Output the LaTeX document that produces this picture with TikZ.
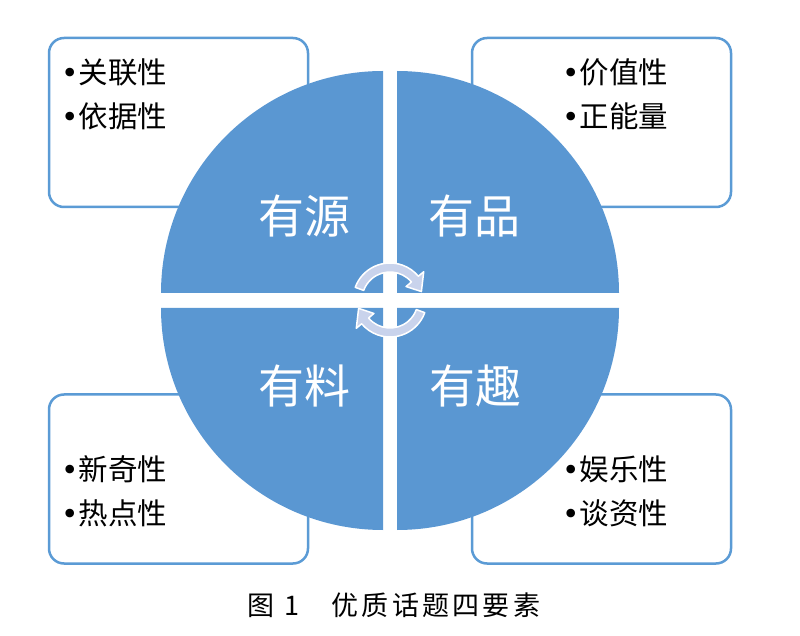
\documentclass[tikz,border=0pt]{standalone}
\usepackage{fontspec}
\setmainfont{Noto Sans CJK SC}
\newfontfamily\dotfont{DejaVu Sans}
\usepackage{tikz}
\usetikzlibrary{positioning, calc}
\definecolor{quadblue}{HTML}{5A97D2}
\definecolor{boxblue}{HTML}{5B9BD5}
\definecolor{arrowfill}{HTML}{C9D3EC}
\newcommand{\itembullet}{{\dotfont •}}

\begin{document}
\begin{tikzpicture}[x=1pt, y=1pt,
      infobox/.style={rectangle, draw=boxblue, fill=white, line width=2.5pt, rounded corners=15pt, minimum width=259pt, minimum height=169pt},
      quad/.style={fill=quadblue},
      quadlabel/.style={text=white, inner sep=0pt, font=\fontsize{46}{50}\selectfont},
      itemtext/.style={anchor=west, align=left, inner sep=0pt, font=\fontsize{29.5}{44}\selectfont},
      cyclearrow/.style={fill=arrowfill, draw=white, line width=1.5pt, line join=round},
      figcaption/.style={inner sep=0pt, font=\fontsize{27}{30}\selectfont\addfontfeatures{LetterSpace=12}},
    ]
    \useasboundingbox (0,0) rectangle (800,635);

    % Boxes
    \node[infobox] (srcbox) at (178.5,512.5) {};
    \node[infobox] (qualbox) at (601.5,512.5) {};
    \node[infobox] (contbox) at (178.5,156) {};
    \node[infobox] (funbox) at (601.5,156) {};

    % Quadrants
    \fill[quad] (383,342) -- ++(-222,0) arc[start angle=180, end angle=90, radius=222pt] -- cycle;
    \fill[quad] (397,342) -- ++(0,222) arc[start angle=90, end angle=0, radius=222pt] -- cycle;
    \fill[quad] (383,327) -- ++(-222,0) arc[start angle=180, end angle=270, radius=222pt] -- cycle;
    \fill[quad] (397,327) -- ++(222,0) arc[start angle=0, end angle=-90, radius=222pt] -- cycle;

    % Labels
    \node[quadlabel] (src) at (304,419) {有源};
    \node[quadlabel] (qual) at (474,419) {有品};
    \node[quadlabel] (cont) at (304,249) {有料};
    \node[quadlabel] (fun) at (475,249) {有趣};

    % Items
    \node[itemtext] (srcitems) at (61,541) {\itembullet{}关联性\\\itembullet{}依据性};
    \node[itemtext] (qualitems) at (562,541) {\itembullet{}价值性\\\itembullet{}正能量};
    \node[itemtext] (contitems) at (61,144) {\itembullet{}新奇性\\\itembullet{}热点性};
    \node[itemtext] (funitems) at (562,144) {\itembullet{}娱乐性\\\itembullet{}谈资性};

    % Cycle arrows
    \begin{scope}[shift={(390,335)}]
      \filldraw[cyclearrow] (160:37) arc[start angle=160, end angle=40, radius=37pt] -- (40:44) -- (15:32.5) -- (40:21) -- (40:28) arc[start angle=40, end angle=160, radius=28pt] -- cycle;
    \end{scope}
    \begin{scope}[shift={(390,335)}, rotate=180]
      \filldraw[cyclearrow] (160:37) arc[start angle=160, end angle=40, radius=37pt] -- (40:44) -- (15:32.5) -- (40:21) -- (40:28) arc[start angle=40, end angle=160, radius=28pt] -- cycle;
    \end{scope}

    % Caption
    \node[figcaption] (cap) at (394,30) {图 1\hspace{1.2em}优质话题四要素};

  \end{tikzpicture}
\end{document}
